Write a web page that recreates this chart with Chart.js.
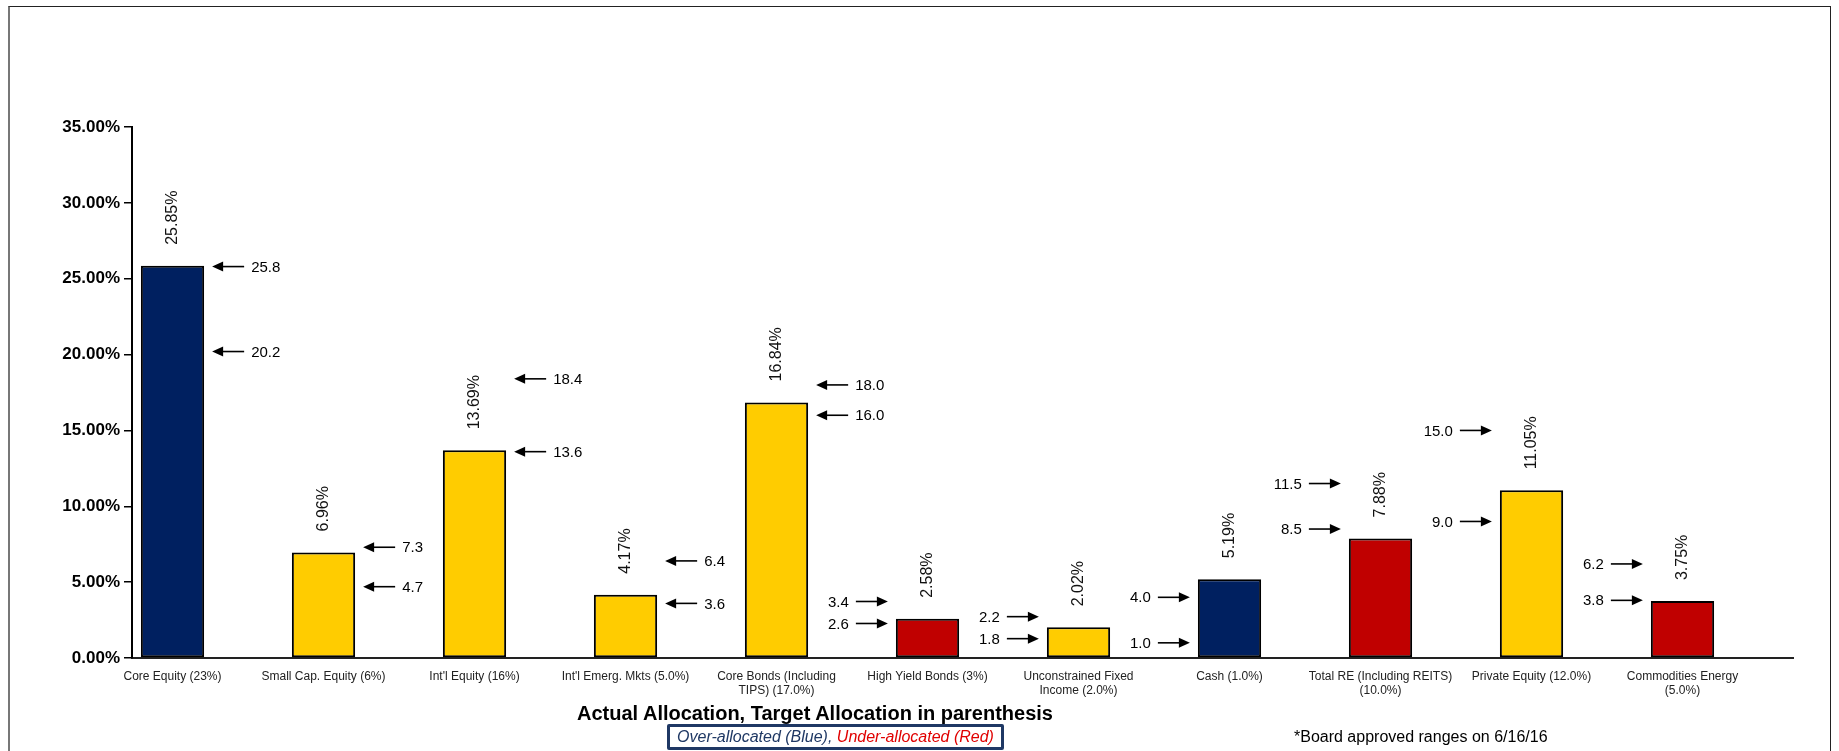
<!DOCTYPE html>
<html>
<head>
<meta charset="utf-8">
<title>Actual vs Target Allocation</title>
<script src="https://cdn.jsdelivr.net/npm/chart.js@4.4.1/dist/chart.umd.min.js"></script>
<style>
  body { margin: 0; background: #fff; font-family: "Liberation Sans", Arial, sans-serif; }
  #wrap { position: relative; width: 1839px; height: 751px; overflow: hidden; }
  #frame { position: absolute; left: 8px; top: 6px; width: 1823px; height: 800px; box-sizing: border-box;
           border: 1.5px solid #222; border-left: 2px solid #777; pointer-events: none; }
  #title { position: absolute; left: 0; width: 1630px; top: 701px; text-align: center;
           font-weight: bold; font-size: 20px; line-height: 24px; color: #000; }
  #legendBox { position: absolute; left: 667px; top: 724px; width: 337px; height: 26px; box-sizing: border-box;
               border: 3px solid #1F3864; border-radius: 2px; text-align: center; font-style: italic;
               font-size: 16px; line-height: 20px; }
  #legendBox .blue { color: #1F3864; }
  #legendBox .red { color: #E00000; }
  #note { position: absolute; left: 1294px; top: 727px; font-size: 16px; line-height: 20px; color: #000; }
</style>
</head>
<body>
<div id="wrap">
  <canvas id="allocChart" width="1839" height="751"></canvas>
  <div id="frame"></div>
  <div id="title">Actual Allocation, Target Allocation in parenthesis</div>
  <div id="legendBox"><span class="blue">Over-allocated (Blue),</span> <span class="red">Under-allocated (Red)</span></div>
  <div id="note">*Board approved ranges on 6/16/16</div>
</div>
<script>
// --- DATA ---
const categories = [
    ['Core Equity (23%)'],
    ['Small Cap. Equity (6%)'],
    ["Int'l Equity (16%)"],
    ["Int'l Emerg. Mkts (5.0%)"],
    ['Core Bonds (Including', 'TIPS) (17.0%)'],
    ['High Yield Bonds (3%)'],
    ['Unconstrained Fixed', 'Income (2.0%)'],
    ['Cash (1.0%)'],
    ['Total RE (Including REITS)', '(10.0%)'],
    ['Private Equity (12.0%)'],
    ['Commodities Energy', '(5.0%)']
];
const actual    = [25.85, 6.96, 13.69, 4.17, 16.84, 2.58, 2.02, 5.19, 7.88, 11.05, 3.75];
const rangeHigh = [25.8, 7.3, 18.4, 6.4, 18.0, 3.4, 2.2, 4.0, 11.5, 15.0, 6.2];
const rangeLow  = [20.2, 4.7, 13.6, 3.6, 16.0, 2.6, 1.8, 1.0, 8.5, 9.0, 3.8];
// over = above range (blue), under = below range (red), in = within range (yellow)
const status    = ['over', 'in', 'in', 'in', 'in', 'under', 'in', 'over', 'under', 'in', 'under'];
// which side of the bar the range arrows sit on
const arrowSide = ['right', 'right', 'right', 'right', 'right', 'left', 'left', 'left', 'left', 'left', 'left'];
const yTicks    = [0, 5, 10, 15, 20, 25, 30, 35];

const COLORS = { over: '#002060', under: '#C00000', in: '#FFCC00' };
const LABEL_FONT = '"Liberation Sans", Arial, sans-serif';
const MIN_GAP = 22; // keep the two range labels from overlapping

function drawArrow(ctx, headX, tailX, py) {
    const dir = tailX > headX ? 1 : -1;
    ctx.beginPath();
    ctx.moveTo(tailX, py);
    ctx.lineTo(headX + dir * 8, py);
    ctx.stroke();
    ctx.beginPath();
    ctx.moveTo(headX, py);
    ctx.lineTo(headX + dir * 11, py - 5);
    ctx.lineTo(headX + dir * 11, py + 5);
    ctx.closePath();
    ctx.fill();
}

// --- value labels + board range arrows ---
const annotations = {
    id: 'annotations',
    afterDatasetsDraw(chart) {
        const ctx = chart.ctx;
        const yScale = chart.scales.y;
        const bars = chart.getDatasetMeta(0).data;
        bars.forEach((bar, i) => {
            const left = bar.x - bar.width / 2;
            const right = bar.x + bar.width / 2;

            ctx.save();
            ctx.translate(bar.x, bar.y - 21);
            ctx.rotate(-Math.PI / 2);
            ctx.font = '16px ' + LABEL_FONT;
            ctx.fillStyle = '#111';
            ctx.textAlign = 'left';
            ctx.textBaseline = 'middle';
            ctx.fillText(actual[i].toFixed(2) + '%', 0, 0);
            ctx.restore();

            let yHi = yScale.getPixelForValue(rangeHigh[i]);
            let yLo = yScale.getPixelForValue(rangeLow[i]);
            if (yLo - yHi < MIN_GAP) {
                const mid = (yHi + yLo) / 2;
                yHi = mid - MIN_GAP / 2;
                yLo = mid + MIN_GAP / 2;
            }

            ctx.save();
            ctx.strokeStyle = '#000';
            ctx.fillStyle = '#000';
            ctx.lineWidth = 1.6;
            ctx.font = '15px ' + LABEL_FONT;
            ctx.textBaseline = 'middle';
            [[rangeHigh[i], yHi], [rangeLow[i], yLo]].forEach(([v, py]) => {
                if (arrowSide[i] === 'right') {
                    drawArrow(ctx, right + 8, right + 40, py);
                    ctx.textAlign = 'left';
                    ctx.fillText(v.toFixed(1), right + 47, py + 1);
                } else {
                    drawArrow(ctx, left - 8, left - 40, py);
                    ctx.textAlign = 'right';
                    ctx.fillText(v.toFixed(1), left - 47, py + 1);
                }
            });
            ctx.restore();
        });
    }
};

const ctx = document.getElementById('allocChart').getContext('2d');
new Chart(ctx, {
    type: 'bar',
    data: {
        labels: categories,
        datasets: [{
            label: 'Actual',
            data: actual,
            backgroundColor: status.map(s => COLORS[s]),
            borderColor: '#000',
            borderWidth: 2,
            borderSkipped: false,
            categoryPercentage: 0.927,
            barPercentage: 0.904
        }, {
            // empty second slot, like the original sheet's paired series
            label: 'Target',
            data: categories.map(() => null),
            categoryPercentage: 0.927,
            barPercentage: 0.904
        }]
    },
    options: {
        responsive: false,
        animation: false,
        devicePixelRatio: 1,
        layout: { padding: { top: 127, right: 46, left: 0, bottom: 0 } },
        plugins: {
            legend: { display: false },
            tooltip: { enabled: false },
            title: { display: false }
        },
        scales: {
            x: {
                grid: { display: false },
                border: { display: true, color: '#222', width: 2 },
                ticks: {
                    autoSkip: false,
                    maxRotation: 0,
                    minRotation: 0,
                    labelOffset: -35,
                    padding: 4,
                    color: '#222',
                    font: { family: LABEL_FONT, size: 12, lineHeight: 1.15 }
                },
                afterFit: s => { s.height = 93; }
            },
            y: {
                min: 0,
                max: 35,
                afterBuildTicks: s => { s.ticks = yTicks.map(v => ({ value: v })); },
                grid: { drawOnChartArea: false, drawTicks: true, tickLength: 8, color: '#000', lineWidth: 1.5 },
                border: { display: true, color: '#000', width: 2 },
                ticks: {
                    padding: 4,
                    color: '#000',
                    font: { family: LABEL_FONT, size: 17, weight: 'bold' },
                    callback: v => v.toFixed(2) + '%'
                },
                afterFit: s => { s.width = 132; }
            }
        }
    },
    plugins: [annotations]
});
</script>
</body>
</html>
